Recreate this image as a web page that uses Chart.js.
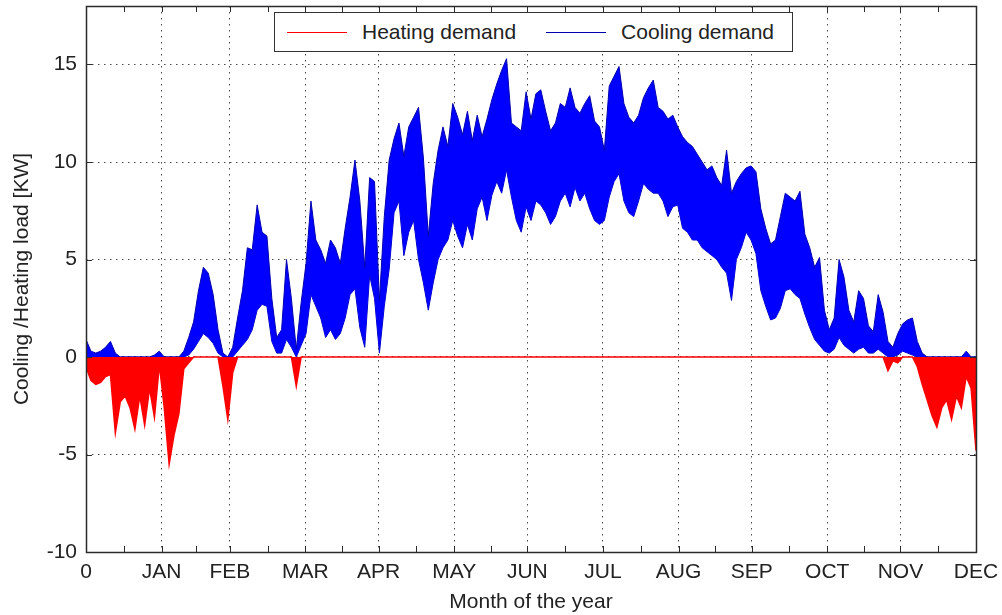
<!DOCTYPE html>
<html>
<head>
<meta charset="utf-8">
<title>Cooling / heating load over the year</title>
<script src="https://cdn.jsdelivr.net/npm/chart.js@4.4.1/dist/chart.umd.min.js"></script>
<style>
  html, body { margin: 0; padding: 0; background: #fff; }
  #wrap { position: relative; width: 1002px; height: 615px; }
  #legend {
    position: absolute; box-sizing: border-box; height: 40px;
    border: 1.5px solid #333; background: #fff;
    display: flex; align-items: center; padding-left: 12px;
    font: 21px "Liberation Sans", Arial, sans-serif; color: #222; white-space: nowrap;
  }
  #legend .item { display: flex; align-items: center; margin-right: 30px; }
  #legend .item:last-child { margin-right: 0; }
  #legend .swatch { display: inline-block; width: 60px; height: 0; border-top: 1.5px solid; margin-right: 15px; }
</style>
</head>
<body>
<div id="wrap">
  <canvas id="c" width="1002" height="615"></canvas>
  <div id="legend"></div>
</div>
<script>
// Axis labelling: month-end positions in hours of the year
const monthLabels = ['0', 'JAN', 'FEB', 'MAR', 'APR', 'MAY', 'JUN', 'JUL', 'AUG', 'SEP', 'OCT', 'NOV', 'DEC'];
const monthEndHours = [0, 744, 1416, 2160, 2880, 3624, 4344, 5088, 5832, 6552, 7296, 8016, 8760];
const yTickValues = [-10, -5, 0, 5, 10, 15];
const HOURS_IN_YEAR = 8760;

// Load envelopes [kW], one sample about every two days through the year
const coolingMax = [
  0.9, 0.3, 0.2, 0.3, 0.5, 0.8, 0.2, 0, 0, 0,
  0, 0, 0, 0, 0.1, 0.3, 0, 0, 0, 0,
  0.3, 1.0, 1.8, 3.4, 4.6, 4.3, 3.2, 1.4, 0.2, 0,
  0.5, 2.0, 3.4, 5.6, 5.5, 7.8, 6.4, 6.2, 3.0, 1.0,
  1.4, 5.0, 3.0, 0.4, 2.8, 4.8, 8.0, 6.0, 5.5, 4.8,
  6.0, 5.6, 4.8, 6.6, 8.2, 10.1, 8.0, 4.6, 9.2, 9.0,
  2.9, 7.2, 10.1, 11.2, 12.0, 10.3, 11.8, 12.3, 12.8, 10.2,
  6.2, 8.9, 10.6, 11.8, 10.8, 13.0, 12.3, 11.4, 12.6, 11.1,
  12.4, 11.3, 12.2, 13.2, 14.0, 14.7, 15.3, 12.0, 11.8, 11.6,
  13.6, 12.2, 13.5, 13.7, 12.6, 11.6, 12.0, 13.0, 12.8, 13.8,
  12.8, 12.5, 13.0, 13.4, 12.1, 11.8, 10.6, 13.9, 14.4, 14.9,
  13.0, 12.3, 12.0, 12.4, 13.3, 13.8, 14.2, 12.8, 12.6, 12.2,
  12.4, 11.8, 11.3, 11.0, 10.8, 10.4, 10.0, 9.6, 9.8, 9.2,
  8.8, 10.6, 8.4, 9.0, 9.4, 9.7, 9.8, 9.5, 7.6, 6.6,
  5.8, 6.0, 7.2, 8.4, 8.2, 8.0, 8.5, 6.3, 5.6, 4.6,
  5.1, 2.4, 1.4, 2.0, 5.0, 4.1, 2.4, 1.8, 3.4, 3.0,
  1.6, 1.3, 3.2, 2.3, 0.8, 0.5, 1.2, 1.7, 1.9, 2.0,
  0.8, 0.2, 0, 0, 0, 0, 0, 0, 0, 0,
  0.3, 0, 0
];
const coolingMin = [
  0, 0, 0, 0, 0, 0, 0, 0, 0, 0,
  0, 0, 0, 0, 0, 0, 0, 0, 0, 0,
  0, 0.1, 0.4, 0.8, 1.2, 1.0, 0.7, 0.2, 0, 0,
  0, 0.3, 0.6, 0.9, 1.4, 2.4, 2.7, 2.6, 0.8, 0.2,
  0.2, 0.9, 0.5, 0, 0.6, 1.2, 3.2, 2.6, 2.0, 1.0,
  1.4, 0.9, 1.2, 2.0, 3.2, 3.5, 1.5, 0.5, 4.2, 3.0,
  0.2, 2.6, 4.5, 7.4, 8.0, 5.2, 6.4, 7.0, 5.0, 3.8,
  2.4, 3.8, 5.0, 5.6, 6.0, 7.0, 6.2, 5.6, 6.8, 6.0,
  7.6, 8.2, 7.0, 8.3, 9.0, 8.4, 9.6, 8.2, 7.0, 6.4,
  7.7, 7.0, 8.0, 7.8, 7.4, 6.8, 7.2, 8.0, 8.4, 7.7,
  8.7, 8.0, 8.4, 7.6, 7.0, 6.8, 7.0, 8.2, 9.0, 9.4,
  8.0, 7.4, 7.2, 8.0, 8.9, 8.6, 8.4, 8.4, 8.0, 7.2,
  7.7, 7.8, 6.6, 6.4, 6.0, 6.0, 5.6, 5.4, 5.2, 5.0,
  4.6, 4.3, 2.9, 5.0, 5.6, 6.4, 6.0, 5.3, 3.4, 2.6,
  1.9, 2.0, 2.5, 3.4, 3.5, 3.2, 3.0, 2.2, 1.5, 0.9,
  0.6, 0.3, 0.2, 0.4, 1.0, 0.6, 0.4, 0.2, 0.4, 0.5,
  0.2, 0.2, 0.4, 0.2, 0, 0, 0.1, 0.3, 0.2, 0.1,
  0, 0, 0, 0, 0, 0, 0, 0, 0, 0,
  0, 0, 0
];
const heatingMin = [
  -0.5, -1.2, -1.4, -1.3, -1.0, -0.9, -3.9, -2.3, -2.0, -2.6,
  -3.7, -2.0, -3.5, -1.6, -3.1, -0.4, -2.6, -5.5, -4.0, -2.9,
  -0.6, -0.3, 0, 0, 0, 0, 0, 0, -1.5, -3.2,
  -0.8, 0, 0, 0, 0, 0, 0, 0, 0, 0,
  0, 0, 0, -1.5, 0, 0, 0, 0, 0, 0,
  0, 0, 0, 0, 0, 0, 0, 0, 0, 0,
  0, 0, 0, 0, 0, 0, 0, 0, 0, 0,
  0, 0, 0, 0, 0, 0, 0, 0, 0, 0,
  0, 0, 0, 0, 0, 0, 0, 0, 0, 0,
  0, 0, 0, 0, 0, 0, 0, 0, 0, 0,
  0, 0, 0, 0, 0, 0, 0, 0, 0, 0,
  0, 0, 0, 0, 0, 0, 0, 0, 0, 0,
  0, 0, 0, 0, 0, 0, 0, 0, 0, 0,
  0, 0, 0, 0, 0, 0, 0, 0, 0, 0,
  0, 0, 0, 0, 0, 0, 0, 0, 0, 0,
  0, 0, 0, 0, 0, 0, 0, 0, 0, 0,
  0, 0, 0, 0, -0.7, -0.2, -0.3, 0, 0, 0,
  -0.5, -1.4, -2.2, -3.0, -3.6, -2.6, -2.2, -3.2, -2.0, -2.6,
  -1.0, -1.6, -4.8
];

// Samples are evenly spread over the year
const toPoints = (arr) => arr.map((v, i) => ({ x: i * HOURS_IN_YEAR / (arr.length - 1), y: v }));

// Minor ticks half way between month ends
const xTickHours = [];
monthEndHours.forEach((h, i) => {
  xTickHours.push(h);
  if (i < monthEndHours.length - 1) xTickHours.push((h + monthEndHours[i + 1]) / 2);
});
const isMonthEnd = (v) => monthEndHours.includes(v);

const FONT = '"Liberation Sans", Arial, sans-serif';
const TEXT = '#222';
const GRID = '#4a4a4a';
const NONE = 'rgba(0,0,0,0)';
const TICK_LEN = 6;

Chart.defaults.font.family = FONT;
Chart.defaults.font.size = 21;
Chart.defaults.color = TEXT;

// Boxed axes with inward tick marks on all four sides
const axesBox = {
  id: 'axesBox',
  afterDatasetsDraw(chart) {
    const { ctx, chartArea: a, scales: { x, y } } = chart;
    ctx.save();
    ctx.strokeStyle = '#2b2b2b';
    ctx.lineWidth = 1;
    ctx.beginPath();
    x.ticks.forEach(t => {
      const px = Math.round(x.getPixelForValue(t.value)) + 0.5;
      ctx.moveTo(px, a.bottom); ctx.lineTo(px, a.bottom - TICK_LEN);
      ctx.moveTo(px, a.top); ctx.lineTo(px, a.top + TICK_LEN);
    });
    y.ticks.forEach(t => {
      const py = Math.round(y.getPixelForValue(t.value)) + 0.5;
      ctx.moveTo(a.left, py); ctx.lineTo(a.left + TICK_LEN, py);
      ctx.moveTo(a.right, py); ctx.lineTo(a.right - TICK_LEN, py);
    });
    ctx.stroke();
    ctx.lineWidth = 1.5;
    ctx.strokeRect(Math.round(a.left) + 0.5, Math.round(a.top) + 0.5,
                   Math.round(a.right - a.left), Math.round(a.bottom - a.top));
    ctx.restore();
  }
};

const chart = new Chart(document.getElementById('c'), {
  type: 'line',
  data: {
    datasets: [
      { label: 'Heating demand', data: toPoints(heatingMin), borderColor: '#ff0000',
        backgroundColor: '#ff0000', borderWidth: 1.5, fill: 'origin' },
      { label: 'Cooling demand', data: toPoints(coolingMax), borderColor: '#0000b0',
        backgroundColor: '#0000ff', borderWidth: 1, fill: '+1' },
      { label: '', data: toPoints(coolingMin), borderColor: '#0000b0',
        backgroundColor: '#0000ff', borderWidth: 1, fill: false }
    ]
  },
  options: {
    responsive: false,
    animation: false,
    events: [],
    layout: { padding: { left: 0, right: 26, top: 6, bottom: 0 } },
    elements: { point: { radius: 0 }, line: { tension: 0 } },
    plugins: { legend: { display: false }, tooltip: { enabled: false } },
    scales: {
      x: {
        type: 'linear', min: 0, max: HOURS_IN_YEAR,
        afterBuildTicks: (s) => { s.ticks = xTickHours.map(v => ({ value: v })); },
        afterFit: (s) => { s.height = 63; s.paddingLeft = 0; s.paddingRight = 0; },
        ticks: {
          autoSkip: false, maxRotation: 0, padding: 8, color: TEXT,
          callback: (v) => isMonthEnd(v) ? monthLabels[monthEndHours.indexOf(v)] : ''
        },
        grid: {
          drawTicks: false, lineWidth: 1,
          color: (c) => (c.tick && isMonthEnd(c.tick.value) && c.tick.value > 0 && c.tick.value < HOURS_IN_YEAR) ? GRID : NONE
        },
        border: { display: false, dash: [1.5, 4.5] },
        title: { display: true, text: 'Month of the year', color: TEXT, padding: { top: 1, bottom: 0 } }
      },
      y: {
        min: -10, max: 18,
        afterBuildTicks: (s) => { s.ticks = yTickValues.map(v => ({ value: v })); },
        afterFit: (s) => { s.width = 86; s.paddingTop = 0; s.paddingBottom = 0; },
        ticks: { padding: 9, color: TEXT },
        grid: {
          drawTicks: false, lineWidth: 1,
          color: (c) => (c.tick && c.tick.value > -10) ? GRID : NONE
        },
        border: { display: false, dash: [1.5, 4.5] },
        title: { display: true, text: 'Cooling /Heating load [KW]', color: TEXT, padding: { top: 10, bottom: 0 } }
      }
    }
  },
  plugins: [axesBox]
});

// Boxed legend placed at the top centre of the plot area
const legendEl = document.getElementById('legend');
chart.data.datasets.filter(ds => ds.label).forEach(ds => {
  const item = document.createElement('span');
  item.className = 'item';
  const sw = document.createElement('span');
  sw.className = 'swatch';
  sw.style.borderTopColor = ds.borderColor;
  const txt = document.createElement('span');
  txt.textContent = ds.label;
  item.appendChild(sw);
  item.appendChild(txt);
  legendEl.appendChild(item);
});
const area = chart.chartArea;
const legendWidth = 519;
legendEl.style.width = legendWidth + 'px';
legendEl.style.left = Math.round((area.left + area.right) / 2 - legendWidth / 2 + 2) + 'px';
legendEl.style.top = Math.round(area.top + 6) + 'px';
</script>
</body>
</html>
